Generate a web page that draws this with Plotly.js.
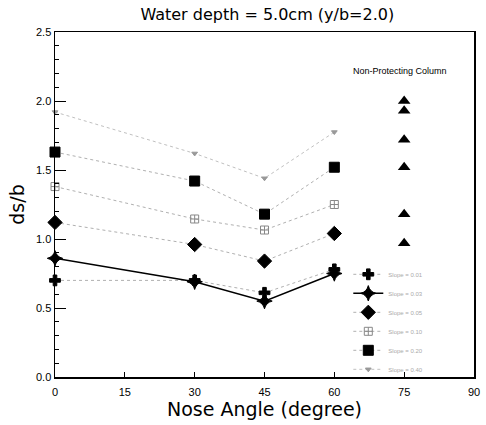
<!DOCTYPE html>
<html>
<head>
<meta charset="utf-8">
<script src="https://cdn.plot.ly/plotly-3.0.1.min.js"></script>
<style>html,body{margin:0;padding:0;background:#fff;}#chart{width:486px;height:425px;}</style>
</head>
<body>
<div id="chart"></div>
<script>
// ---- data ----
const noseAngles = [0, 30, 45, 60];
const seriesNames = ["Slope = 0.01", "Slope = 0.03", "Slope = 0.05", "Slope = 0.10", "Slope = 0.20", "Slope = 0.40"];
const slope001 = [0.70, 0.70, 0.61, 0.78];
const slope003 = [0.86, 0.69, 0.55, 0.75];
const slope005 = [1.12, 0.96, 0.84, 1.04];
const slope010 = [1.38, 1.145, 1.065, 1.25];
const slope020 = [1.63, 1.42, 1.18, 1.52];
const slope040 = [1.92, 1.62, 1.44, 1.775];
const nonProtAngle = [75, 75, 75, 75, 75, 75];
const nonProtValues = [2.00, 1.93, 1.72, 1.52, 1.18, 0.97];
const xTicks = [0, 15, 30, 45, 60, 75, 90];
const yTicks = [0.0, 0.5, 1.0, 1.5, 2.0, 2.5];

// ---- styles ----
const styles = [
  {symbol: "cross", size: 9, color: "#000", line: {color: "#b0b0b0", width: 1, dash: "dot"}},
  {symbol: "star-diamond", size: 11, color: "#000", line: {color: "#000", width: 1.5, dash: "solid"}},
  {symbol: "diamond", size: 11, color: "#000", line: {color: "#b0b0b0", width: 1, dash: "dot"}},
  {symbol: "square-cross-open", size: 8, color: "#888", line: {color: "#b0b0b0", width: 1, dash: "dot"}},
  {symbol: "square", size: 10, color: "#000", line: {color: "#b0b0b0", width: 1, dash: "dot"}},
  {symbol: "triangle-down", size: 5, color: "#999", line: {color: "#c0c0c0", width: 1, dash: "dot"}}
];
const values = [slope001, slope003, slope005, slope010, slope020, slope040];

const traces = values.map((v, i) => ({
  x: noseAngles, y: v, name: seriesNames[i], type: "scatter", mode: "lines+markers",
  cliponaxis: false,
  line: styles[i].line,
  marker: {symbol: styles[i].symbol, size: styles[i].size, color: styles[i].color,
           line: {color: styles[i].color, width: 1}}
}));
traces.push({
  x: nonProtAngle, y: nonProtValues, type: "scatter", mode: "markers", showlegend: false,
  cliponaxis: false, marker: {symbol: "triangle-up", size: 11, color: "#000"}
});

const layout = {
  width: 486, height: 425,
  margin: {l: 55, r: 12, t: 32, b: 48},
  paper_bgcolor: "#fff", plot_bgcolor: "#fff",
  title: {text: "Water depth = 5.0cm (y/b=2.0)", font: {family: "DejaVu Sans", size: 16, color: "#000"},
          x: 0.55, xanchor: "center", y: 0.965, yanchor: "middle"},
  xaxis: {
    range: [0, 90], tickvals: xTicks, ticktext: xTicks.map(String),
    ticks: "inside", ticklen: 5, tickcolor: "#000", showgrid: false, zeroline: false,
    showline: true, linecolor: "#000", linewidth: 1.5, mirror: true,
    ticklabelstandoff: 4,
    tickfont: {family: "Liberation Sans", size: 11, color: "#000"},
    title: {text: "Nose Angle (degree)", font: {family: "DejaVu Sans", size: 19, color: "#000"}, standoff: 4}
  },
  yaxis: {
    range: [0, 2.5], tickvals: yTicks, ticktext: yTicks.map(v => v.toFixed(1)),
    ticks: "inside", ticklen: 11, tickcolor: "#000", showgrid: false, zeroline: false,
    showline: true, linecolor: "#000", linewidth: 1.5, mirror: true,
    minor: {dtick: 0.1, ticks: "inside", ticklen: 4, tickcolor: "#000", showgrid: false},
    tickfont: {family: "Liberation Sans", size: 11, color: "#000"},
    title: {text: "ds/b", font: {family: "DejaVu Sans", size: 19, color: "#000"}, standoff: 6}
  },
  legend: {x: 0.70, xanchor: "left", y: 0.16, yanchor: "middle", bgcolor: "rgba(0,0,0,0)",
           font: {family: "Liberation Sans", size: 6, color: "#aaa"}},
  annotations: [{x: 74.2, y: 2.22, xref: "x", yref: "y", text: "Non-Protecting Column", showarrow: false,
                 font: {family: "Liberation Sans Narrow, Liberation Sans", size: 9, color: "#000"}}]
};

Plotly.newPlot("chart", traces, layout, {displayModeBar: false, staticPlot: true});
</script>
</body>
</html>
